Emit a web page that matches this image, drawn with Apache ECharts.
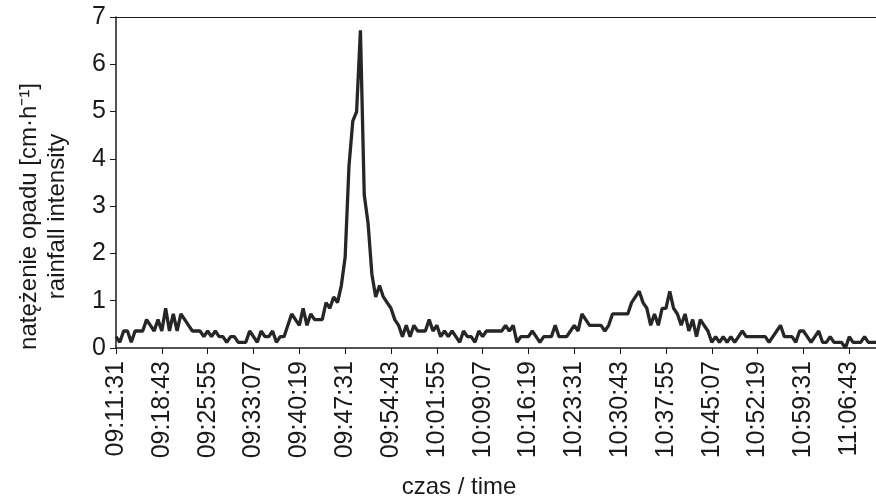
<!DOCTYPE html>
<html>
<head>
<meta charset="utf-8">
<script src="https://cdn.jsdelivr.net/npm/echarts@6/dist/echarts.min.js"></script>
<style>html,body{margin:0;padding:0;background:#fff;}#c{width:876px;height:504px;}</style>
</head>
<body>
<div id="c"></div>
<script>
// time axis: first reading and step between readings (seconds)
const startTime = '09:11:31';
const stepSeconds = 36;
// rainfall intensity [cm/h], one value per reading
const intensity = [
  0.24,0.12,0.36,0.36,0.12,0.36,0.36,0.36,0.6,0.48,
  0.36,0.6,0.36,0.84,0.36,0.72,0.36,0.72,0.6,0.48,
  0.36,0.36,0.36,0.24,0.36,0.24,0.36,0.24,0.24,0.12,
  0.24,0.24,0.12,0.12,0.12,0.36,0.24,0.12,0.36,0.24,
  0.24,0.36,0.12,0.24,0.24,0.48,0.72,0.6,0.48,0.84,
  0.48,0.72,0.6,0.6,0.6,0.96,0.84,1.08,0.96,1.32,
  1.92,3.84,4.8,5.0,6.72,3.24,2.64,1.56,1.08,1.32,
  1.08,0.96,0.84,0.6,0.48,0.24,0.48,0.24,0.48,0.36,
  0.36,0.36,0.6,0.36,0.48,0.24,0.36,0.24,0.36,0.24,
  0.12,0.36,0.24,0.24,0.12,0.36,0.24,0.36,0.36,0.36,
  0.36,0.36,0.48,0.36,0.48,0.12,0.24,0.24,0.24,0.36,
  0.24,0.12,0.24,0.24,0.24,0.48,0.24,0.24,0.24,0.36,
  0.48,0.36,0.72,0.6,0.48,0.48,0.48,0.48,0.36,0.48,
  0.72,0.72,0.72,0.72,0.72,0.96,1.08,1.2,0.96,0.84,
  0.48,0.72,0.48,0.84,0.84,1.2,0.84,0.72,0.48,0.72,
  0.36,0.6,0.24,0.6,0.48,0.36,0.12,0.24,0.12,0.24,
  0.12,0.24,0.12,0.24,0.36,0.24,0.24,0.24,0.24,0.24,
  0.24,0.12,0.24,0.36,0.48,0.24,0.24,0.24,0.12,0.36,
  0.36,0.24,0.12,0.24,0.36,0.12,0.12,0.24,0.12,0.12,
  0.12,0.0,0.24,0.12,0.12,0.12,0.24,0.12,0.12,0.12
];
const yTicks = [0,1,2,3,4,5,6,7];

function pad(n){return (n<10?'0':'')+n;}
function toSec(s){const p=s.split(':').map(Number);return p[0]*3600+p[1]*60+p[2];}
function fmt(t){return pad(Math.floor(t/3600))+':'+pad(Math.floor(t%3600/60))+':'+pad(t%60);}
const t0 = toSec(startTime);
const categories = intensity.map((v,i)=>fmt(t0+i*stepSeconds));

const FONT = 'Liberation Sans, Arial, sans-serif';
const INK = '#1a1a1a';
const chart = echarts.init(document.getElementById('c'), null, {renderer:'canvas'});
chart.setOption({
  animation:false,
  backgroundColor:'#fff',
  grid:{left:116, right:0, top:17, bottom:151, containLabel:false},
  xAxis:[{
    type:'category', data:categories, boundaryGap:false,
    axisLine:{lineStyle:{color:INK, width:1.5}},
    axisTick:{interval:11, length:6, lineStyle:{color:INK}},
    axisLabel:{interval:11, rotate:90, margin:13, color:INK, fontSize:25, fontFamily:FONT},
    splitLine:{show:false},
    name:'czas / time', nameLocation:'middle', nameGap:127,
    nameTextStyle:{color:INK, fontSize:24, fontFamily:FONT, padding:[0,74,0,0]}
  },{
    type:'category', position:'top', data:categories, boundaryGap:false,
    axisLine:{lineStyle:{color:INK, width:1}}, axisTick:{show:false}, axisLabel:{show:false}
  }],
  yAxis:{
    type:'value', min:yTicks[0], max:yTicks[yTicks.length-1], interval:1,
    axisLine:{show:true, lineStyle:{color:INK, width:1.5}},
    axisTick:{show:true, length:6, lineStyle:{color:INK}},
    axisLabel:{margin:10, color:INK, fontSize:25, fontFamily:FONT},
    splitLine:{show:false},
    name:'natężenie opadu [cm·h⁻¹]\nrainfall intensity', nameLocation:'middle', nameGap:45, nameRotate:90,
    nameTextStyle:{color:INK, fontSize:24, fontFamily:FONT, lineHeight:28, padding:[0,68,0,0]}
  },
  series:[{
    type:'line', data:intensity, xAxisIndex:0, symbol:'none',
    lineStyle:{color:'#262626', width:3.3}
  }]
});
</script>
</body>
</html>
